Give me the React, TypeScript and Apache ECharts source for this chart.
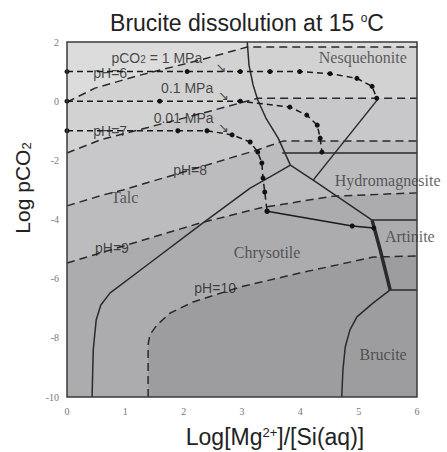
import React, { useEffect, useRef } from "react";
import * as echarts from "echarts";

// ---- axis ticks ----
const xTickValues = [0, 1, 2, 3, 4, 5, 6];
const yTickValues = [-10, -8, -6, -4, -2, 0, 2];

// ---- pH iso-lines (x = Log[Mg2+]/[Si(aq)], y = Log pCO2) ----
const ph6Line = [[0, -0.03], [0.48, 0.44], [1.25, 0.88], [2.28, 1.39], [3.09, 1.83], [6, 1.83]];
const ph7Line = [[0, -1.75], [0.57, -1.31], [1.42, -0.87], [2.28, -0.43], [3.27, 0.1], [6, 0.1]];
const ph8Line = [[0, -3.54], [0.62, -3.17], [0.96, -3.0], [2.11, -2.33], [3.26, -1.65], [3.7, -1.35], [6, -1.35]];
const ph9Line = [[0, -5.47], [1.2, -4.76], [2.28, -4.12], [3.31, -3.61], [4.56, -3.21], [6, -3.1]];
const ph10Line = [[1.39, -10], [1.39, -8.24], [1.42, -7.9], [1.54, -7.57], [1.77, -7.16], [2.16, -6.79], [2.97, -6.28], [3.99, -5.81], [5.25, -5.27], [6, -5.23]];

// ---- reaction paths (pCO2 = 1, 0.1, 0.01 MPa) ----
const path1MPa = [[0, 1], [2.06, 1], [2.97, 1], [3.48, 1], [3.99, 1], [4.51, 0.93], [4.97, 0.77], [5.23, 0.5], [5.31, 0.1]];
const path01MPa = [[0, 0], [1.59, 0], [2.97, 0], [3.82, -0.2], [4.11, -0.47], [4.29, -0.81], [4.34, -1.25], [4.37, -1.72]];
const path001MPa = [[0, -1], [1.9, -1], [2.4, -1], [2.83, -1.14], [3.14, -1.38], [3.27, -1.72], [3.34, -2.09], [3.36, -2.6], [3.39, -3.07], [3.43, -3.72]];
const path001Tail = [[3.43, -3.72], [4.89, -4.22], [5.26, -4.29]];

// ---- phase boundaries ----
const talcChrysotile = [[0.43, -10], [0.45, -8.41], [0.5, -7.4], [0.58, -6.89], [0.74, -6.48], [1.42, -5.47], [2.28, -4.19], [3.14, -2.94], [3.48, -2.56], [3.83, -2.16]];
const talcCarbonate = [[3.09, 2], [3.12, 1.22], [3.19, 0.55], [3.27, 0.04], [3.41, -0.57], [3.62, -1.25], [3.83, -2.16]];
const chrysotileHydro = [[3.83, -2.16], [4.22, -2.67], [5.23, -4.02]];
const nesqHydro = [[4.22, -2.67], [5.33, 0.07]];
const artiniteEdge = [[5.23, -4.02], [5.37, -5.03], [5.54, -6.38]];
const bruciteEdge = [[5.54, -6.38], [5.25, -6.82], [4.97, -7.29], [4.85, -7.73], [4.77, -8.31], [4.73, -9.09], [4.71, -10]];
const hLine1 = [[3.69, -1.75], [6, -1.75]];
const hLine2 = [[5.23, -4.02], [6, -4.02]];
const hLine3 = [[5.54, -6.38], [6, -6.38]];

// ---- labels ----
const phaseNames = ["Nesquehonite", "Hydromagnesite", "Artinite", "Brucite", "Chrysotile", "Talc"];
const phasePos = [[5.07, 1.49], [4.59, -2.67], [5.45, -4.59], [5.42, -8.58], [3.43, -5.1], [0.99, -3.27]];
const phaseAlign = ["center", "left", "left", "center", "center", "center"];
const noteTexts = ["{a|pCO}{b|2}{a| = 1 MPa}", "{a|pH=6}", "{a|0.1 MPa}", "{a|0.01 MPa}", "{a|pH=7}", "{a|pH=8}", "{a|pH=9}", "{a|pH=10}", "{r|↘}", "{r|↘}", "{r|↘}"];
const notePos = [[1.54, 1.46], [0.74, 0.95], [2.06, 0.44], [2.0, -0.57], [0.74, -1.01], [2.11, -2.33], [0.77, -4.96], [2.54, -6.32], [2.64, 1.13], [2.68, 0.2], [2.68, -0.88]];

const SANS = "'Liberation Sans', Arial, sans-serif";
const SERIF = "'Liberation Serif', 'Times New Roman', serif";

const bandColors = ["#9d9da0", "#acacaf", "#bcbcbe", "#c8c8ca", "#d2d2d3", "#dcdcdc"];

export default function App() {
  const ref = useRef<HTMLDivElement>(null);
  useEffect(() => {
    const chart = echarts.init(ref.current!, null, { renderer: "svg" });
    const bandPolys = [
      [[0, 2], [6, 2], [6, -10], [0, -10]],
      [...ph10Line, [6, 2], [0, 2], [0, -10]],
      [...ph9Line, [6, 2], [0, 2]],
      [...ph8Line, [6, 2], [0, 2]],
      [...ph7Line, [6, 2], [0, 2]],
      [...ph6Line, [6, 2], [0, 2]],
    ];
    const dashed = (data: number[][]) => ({
      type: "line", data, showSymbol: false, silent: true, z: 3,
      lineStyle: { color: "#2a2a2a", width: 1.5, type: [8, 5] },
    });
    const solid = (data: number[][], width = 1.5) => ({
      type: "line", data, showSymbol: false, silent: true, z: 4,
      lineStyle: { color: "#2a2a2a", width, type: "solid" },
    });
    const path = (data: number[][], lineType: any = [6, 4]) => ({
      type: "line", data, symbol: "circle", symbolSize: 5, showSymbol: true, silent: true, z: 5,
      itemStyle: { color: "#111" },
      lineStyle: { color: "#1a1a1a", width: 1.5, type: lineType },
    });
    const option: any = {
      animation: false,
      grid: { left: 67, top: 42, width: 350, height: 355 },
      xAxis: {
        type: "value", min: xTickValues[0], max: xTickValues[xTickValues.length - 1], interval: 1,
        splitLine: { show: false }, axisTick: { show: false },
        axisLine: { show: false },
        axisLabel: { fontFamily: SERIF, fontSize: 10, color: "#777", margin: 9 },
      },
      yAxis: {
        type: "value", min: yTickValues[0], max: yTickValues[yTickValues.length - 1], interval: 2,
        splitLine: { show: false }, axisTick: { show: false },
        axisLine: { show: false },
        axisLabel: { fontFamily: SERIF, fontSize: 10, color: "#777", margin: 8 },
      },
      graphic: [
        {
          type: "text", x: 247, y: 23,
          style: {
            text: "{a|Brucite dissolution at 15 }{s|o}{a|C}",
            align: "center", verticalAlign: "middle",
            rich: {
              a: { fontFamily: SANS, fontSize: 23, fill: "#222" },
              s: { fontFamily: SANS, fontSize: 12, fill: "#222", verticalAlign: "top" },
            },
          },
        },
        {
          type: "text", x: 275, y: 437,
          style: {
            text: "{a|Log[Mg}{s|2+}{a|]/[Si(aq)]}",
            align: "center", verticalAlign: "middle",
            rich: {
              a: { fontFamily: SANS, fontSize: 23, fill: "#222" },
              s: { fontFamily: SANS, fontSize: 13, fill: "#222", verticalAlign: "top" },
            },
          },
        },
        {
          type: "text", x: 22, y: 188, rotation: Math.PI / 2,
          style: {
            text: "{a|Log pCO}{b|2}",
            align: "center", verticalAlign: "middle",
            rich: {
              a: { fontFamily: SANS, fontSize: 21, fill: "#222" },
              b: { fontFamily: SANS, fontSize: 13, fill: "#222", verticalAlign: "bottom" },
            },
          },
        },
      ],
      series: [
        {
          type: "custom", z: 1, silent: true,
          data: bandPolys.map(() => [0, 0]),
          renderItem: (params: any, api: any) => ({
            type: "polygon",
            shape: { points: bandPolys[params.dataIndex].map((q) => api.coord(q)) },
            style: { fill: bandColors[params.dataIndex] },
          }),
        },
        dashed(ph6Line),
        dashed(ph7Line),
        dashed(ph8Line),
        dashed(ph9Line),
        dashed(ph10Line),
        solid(talcChrysotile),
        solid(talcCarbonate),
        solid(chrysotileHydro),
        solid(nesqHydro),
        solid(artiniteEdge, 3.5),
        solid(bruciteEdge),
        solid(hLine1),
        solid(hLine2),
        solid(hLine3),
        path(path1MPa),
        path(path01MPa),
        path(path001MPa),
        path(path001Tail, "solid"),
        {
          type: "scatter", z: 8, silent: true, symbolSize: 0,
          data: phaseNames.map((n, i) => ({
            value: phasePos[i],
            label: {
              show: true, position: "inside", formatter: n, align: phaseAlign[i],
              fontFamily: SERIF, fontSize: 16, color: "#3a3a3a",
            },
          })),
        },
        {
          type: "scatter", z: 8, silent: true, symbolSize: 0,
          data: noteTexts.map((t, i) => ({
            value: notePos[i],
            label: {
              show: true, position: "inside", formatter: t,
              rich: {
                a: { fontFamily: SANS, fontSize: 14, color: "#1e1e1e" },
                b: { fontFamily: SANS, fontSize: 10, color: "#1e1e1e", verticalAlign: "bottom" },
                r: { fontFamily: "'DejaVu Sans', sans-serif", fontSize: 13, color: "#1e1e1e" },
              },
            },
          })),
        },
        {
          type: "custom", z: 20, silent: true,
          data: [[0, 0]],
          renderItem: (params: any, api: any) => {
            const a = api.coord([xTickValues[0], yTickValues[yTickValues.length - 1]]);
            const b = api.coord([xTickValues[xTickValues.length - 1], yTickValues[0]]);
            return {
              type: "rect",
              shape: { x: a[0], y: a[1], width: b[0] - a[0], height: b[1] - a[1] },
              style: { fill: "none", stroke: "#3a3a3a", lineWidth: 1.5 },
            };
          },
        },
      ],
    };
    chart.setOption(option);
    return () => chart.dispose();
  }, []);
  return <div ref={ref} style={{ position: "absolute", left: 0, top: 0, width: 447, height: 452 }} />;
}
